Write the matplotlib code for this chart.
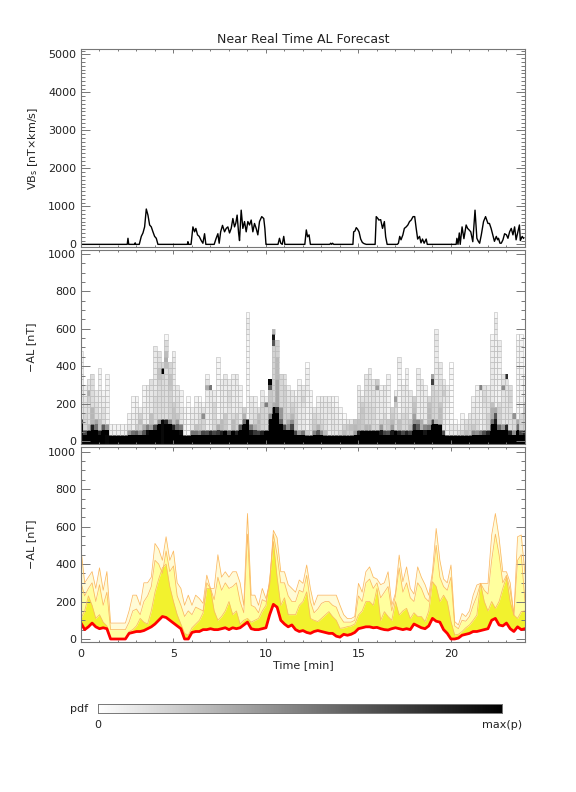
import numpy as np
import matplotlib.pyplot as plt
from matplotlib.ticker import MultipleLocator

# time grid of the forecast [min]
t = np.linspace(0, 24, 121)

# VBs solar wind driver, read at break points
vbs_t = [0, 2.5, 2.54, 2.58, 2.9, 2.93, 2.96, 3.15, 3.26, 3.35, 3.44, 3.53, 3.62, 3.71, 3.8, 3.89,
         3.98, 4.07, 4.16, 5.75, 5.78, 5.82, 5.95, 6.05, 6.14, 6.21, 6.3, 6.39, 6.5, 6.59, 6.68,
         6.75, 7.2, 7.3, 7.4, 7.47, 7.55, 7.65, 7.76, 7.85, 7.94, 8.03, 8.12, 8.21, 8.3, 8.37,
         8.44, 8.52, 8.57, 8.66, 8.75, 8.84, 8.93, 9.02, 9.11, 9.2, 9.29, 9.38, 9.47, 9.56, 9.65,
         9.77, 9.88, 9.94, 10.0, 10.65, 10.73, 10.8, 10.88, 10.96, 11.02, 12.1, 12.18, 12.25,
         12.33, 12.4, 13.45, 13.5, 13.55, 13.6, 13.66, 14.7, 14.74, 14.81, 14.88, 14.95, 15.03,
         15.12, 15.21, 15.3, 15.42, 15.9, 15.96, 16.05, 16.1, 16.2, 16.3, 16.4, 16.47, 16.55,
         17.1, 17.16, 17.23, 17.3, 17.4, 17.48, 17.58, 17.67, 17.76, 17.85, 17.95, 18.04, 18.12,
         18.2, 18.3, 18.38, 18.46, 18.55, 18.66, 18.72, 20.28, 20.32, 20.38, 20.45, 20.5, 20.6,
         20.7, 20.82, 20.9, 20.98, 21.07, 21.18, 21.3, 21.4, 21.48, 21.55, 21.64, 21.76, 21.87,
         22.0, 22.08, 22.17, 22.26, 22.35, 22.45, 22.52, 22.57, 22.65, 22.72, 22.81, 22.9, 23.0,
         23.08, 23.17, 23.26, 23.35, 23.44, 23.52, 23.62, 23.7, 23.75, 23.85, 23.92]
vbs_v = [0, 0, 160, 0, 0, 40, 0, 0, 210, 300, 460, 930, 770, 510, 460, 330,
         210, 160, 0, 0, 70, 0, 0, 460, 330, 420, 250, 210, 100, 30, 280,
         0, 0, 150, 280, 30, 330, 500, 330, 420, 460, 300, 420, 680, 460, 560,
         770, 300, 100, 900, 420, 600, 330, 600, 510, 640, 330, 550, 420, 250, 600,
         730, 680, 420, 0, 0, 160, 30, 0, 210, 0, 0, 380, 200,
         250, 0, 0, 30, 0, 30, 0, 0, 330, 350, 440, 400, 330,
         140, 50, 20, 0, 0, 730, 680, 640, 650, 420, 600, 200, 0,
         0, 30, 210, 120, 250, 420, 460, 510, 600, 640, 730, 730, 420,
         140, 210, 40, 140, 30, 140, 0, 0, 160, 0, 300, 0, 460,
         150, 510, 420, 380, 330, 70, 900, 160, 80, 30, 250, 600, 730,
         550, 550, 420, 250, 80, 210, 120, 160, 30, 30, 120, 280, 250,
         160, 330, 420, 250, 460, 120, 330, 510, 100, 210, 160]

# -AL forecast: median and upper quantiles [nT]
al_med = [85, 50, 65, 85, 65, 55, 60, 55, 0, 0,
          0, 0, 0, 30, 35, 40, 40, 45, 55, 65,
          80, 100, 120, 115, 100, 85, 70, 55, 0, 0,
          35, 40, 40, 50, 50, 55, 50, 50, 55, 60,
          50, 60, 55, 60, 75, 90, 55, 50, 50, 55,
          60, 130, 185, 170, 100, 80, 65, 75, 50, 40,
          45, 35, 30, 40, 45, 40, 35, 30, 30, 15,
          10, 25, 20, 25, 35, 55, 60, 65, 65, 60,
          62, 55, 50, 48, 55, 60, 55, 50, 55, 50,
          80, 70, 60, 55, 70, 110, 95, 90, 50, 30,
          0, 0, 5, 20, 25, 30, 40, 40, 45, 50,
          55, 100, 110, 75, 70, 85, 55, 40, 65, 50,
          55]
al_q75 = [110, 150, 230, 180, 110, 130, 90, 70, 0, 0,
          0, 0, 0, 40, 50, 70, 110, 90, 80, 150,
          250, 320, 380, 400, 280, 200, 130, 80, 30, 20,
          60, 80, 100, 140, 270, 270, 150, 100, 120, 150,
          200, 130, 150, 80, 100, 110, 90, 100, 110, 150,
          180, 320, 520, 330, 180, 220, 130, 130, 130, 180,
          200, 252, 110, 100, 93, 110, 128, 146, 120, 100,
          57, 60, 66, 70, 80, 128, 150, 200, 200, 180,
          270, 100, 146, 120, 100, 200, 128, 150, 164, 109,
          140, 120, 120, 93, 150, 306, 280, 200, 234, 200,
          93, 22, 25, 40, 60, 75, 100, 128, 297, 200,
          150, 200, 164, 200, 270, 330, 200, 128, 110, 146,
          150]
al_q90 = [300, 230, 270, 300, 200, 290, 180, 250, 50, 50,
          50, 50, 50, 90, 150, 160, 130, 200, 230, 280,
          420, 400, 350, 470, 360, 390, 230, 180, 120, 150,
          130, 170, 160, 150, 300, 270, 210, 330, 260, 300,
          270, 280, 300, 200, 140, 560, 180, 170, 140, 210,
          200, 290, 560, 450, 300, 300, 230, 200, 200, 260,
          250, 340, 200, 140, 160, 190, 200, 200, 180, 170,
          120, 90, 90, 90, 100, 230, 200, 300, 320, 270,
          300, 220, 250, 280, 150, 230, 380, 250, 300, 220,
          200, 300, 270, 220, 200, 330, 500, 330, 280, 260,
          330, 70, 55, 100, 95, 120, 180, 230, 297, 260,
          240, 420, 560, 450, 300, 340, 260, 128, 420, 450,
          200]
al_q95 = [480, 300, 330, 360, 270, 380, 260, 360, 85, 85,
          85, 85, 85, 150, 234, 234, 180, 300, 300, 330,
          510, 480, 420, 546, 420, 470, 300, 270, 180, 234,
          180, 234, 216, 190, 341, 270, 270, 450, 330, 359,
          330, 359, 359, 300, 180, 670, 234, 234, 180, 270,
          216, 300, 580, 540, 359, 359, 290, 270, 250, 315,
          297, 395, 270, 180, 234, 234, 234, 234, 234, 234,
          180, 130, 109, 109, 120, 297, 250, 359, 385, 330,
          320, 290, 300, 359, 180, 245, 448, 306, 385, 270,
          240, 385, 330, 290, 234, 359, 590, 420, 320, 300,
          395, 93, 75, 136, 120, 150, 234, 288, 297, 297,
          297, 555, 670, 540, 359, 359, 300, 128, 546, 555,
          350]
# probability held between successive curves (0, med, q75, q90, q95)
q_mass = [0.62, 0.2, 0.12, 0.06]

TXT = '#222222'
AXC = '#777777'
plt.rcParams['font.family'] = 'DejaVu Sans'
plt.rcParams['font.size'] = 8

fig = plt.figure(figsize=(5.76, 7.92), dpi=100)
ax1 = fig.add_axes([0.1406, 0.6881, 0.7708, 0.2500])
ax2 = fig.add_axes([0.1406, 0.4394, 0.7708, 0.2450])
ax3 = fig.add_axes([0.1406, 0.1894, 0.7708, 0.2462])


def style(ax, ymaj, ymin):
    ax.set_xlim(0, 24)
    ax.xaxis.set_major_locator(MultipleLocator(5))
    ax.xaxis.set_minor_locator(MultipleLocator(1))
    ax.yaxis.set_major_locator(MultipleLocator(ymaj))
    ax.yaxis.set_minor_locator(MultipleLocator(ymin))
    ax.tick_params(which='both', direction='in', top=True, right=True, colors=AXC,
                   labelcolor=TXT, width=0.7)
    ax.tick_params(axis='y', which='major', length=6.5)
    ax.tick_params(axis='y', which='minor', length=3.2)
    ax.tick_params(axis='x', which='major', length=3.0)
    ax.tick_params(axis='x', which='minor', length=1.5)
    for s in ax.spines.values():
        s.set_color(AXC)
        s.set_linewidth(0.8)


# top panel: VBs
ax1.plot(vbs_t, vbs_v, color='black', lw=1.0)
ax1.set_ylim(-70, 5140)
style(ax1, 1000, 100)
ax1.tick_params(labelbottom=False)
ax1.set_ylabel('VB$_\\mathregular{s}$ [nT×km/s]', color=TXT, labelpad=6)
ax1.set_title('Near Real Time AL Forecast', color=TXT, fontsize=9, pad=4)

# middle panel: pdf of -AL built from the quantile curves
al_edges = np.arange(0, 1051, 30).astype(float)
levels = np.array([np.zeros(len(t)), al_med, al_q75, al_q90, al_q95], dtype=float)
pdf = np.zeros((len(al_edges) - 1, len(t)))
for k in range(len(t)):
    for j in range(4):
        lo, hi = levels[j, k], levels[j + 1, k]
        if hi - lo < 1:
            i = min(int(lo // 30), len(al_edges) - 2)
            pdf[i, k] += q_mass[j]
            continue
        ov = np.clip(np.minimum(al_edges[1:], hi) - np.maximum(al_edges[:-1], lo), 0, None)
        pdf[:, k] += q_mass[j] * ov / (hi - lo)
pdf = pdf / pdf.max(axis=0)

t_edges = np.append(t - 0.1, t[-1] + 0.1)
draw_edges = al_edges.copy()
draw_edges[0] = -18
ax2.pcolormesh(t_edges, draw_edges, np.ma.masked_less(pdf, 0.005), cmap='gray_r',
               vmin=0, vmax=1, shading='flat')
# faint cells get a thin grey outline
ii, kk = np.nonzero((pdf >= 0.005) & (pdf < 0.3))
ax2.bar(t[kk], np.diff(draw_edges)[ii], bottom=draw_edges[ii], width=0.2, align='center',
        fill=False, edgecolor='#bdbdbd', linewidth=0.4)
ax2.set_ylim(-16, 1021)
style(ax2, 200, 50)
ax2.tick_params(labelbottom=False)
ax2.set_ylabel('\u2212AL [nT]', color=TXT, labelpad=9)

# bottom panel: quantile bands
ax3.fill_between(t, al_q90, al_q95, color='#fffbd6', lw=0)
ax3.fill_between(t, al_q75, al_q90, color='#ffff9e', lw=0)
ax3.fill_between(t, al_med, al_q75, color='#f2f22e', lw=0)
for q in (al_q75, al_q90, al_q95):
    ax3.plot(t, q, color='#fbb860', lw=0.55)
ax3.plot(t, al_med, color='#ff0000', lw=2.0)
ax3.set_ylim(-16, 1025)
style(ax3, 200, 50)
ax3.set_ylabel('\u2212AL [nT]', color=TXT, labelpad=9)
ax3.set_xlabel('Time [min]', color=TXT, labelpad=1)
ax3.tick_params(axis='x', pad=5)

# colour bar
axc = fig.add_axes([0.1696, 0.1001, 0.7014, 0.011])
axc.imshow(np.linspace(0, 1, 256).reshape(1, -1), cmap='gray_r', aspect='auto',
           extent=[0, 1, 0, 1])
axc.set_xticks([])
axc.set_yticks([])
for s in axc.spines.values():
    s.set_color(AXC)
    s.set_linewidth(0.7)
fig.text(0.138, 0.1045, 'pdf', ha='center', va='center', color=TXT, fontsize=8)
fig.text(0.1696, 0.084, '0', ha='center', va='center', color=TXT, fontsize=8)
fig.text(0.872, 0.084, 'max(p)', ha='center', va='center', color=TXT, fontsize=8)

fig.savefig('out.png', dpi=100)
